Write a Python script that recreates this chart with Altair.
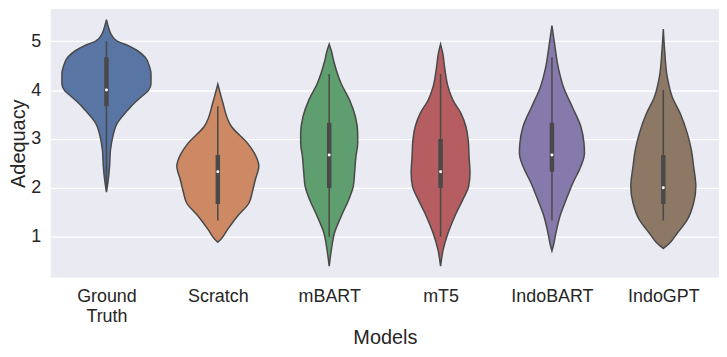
import altair as alt
import pandas as pd

models = ["Ground Truth", "Scratch", "mBART", "mT5", "IndoBART", "IndoGPT"]
colors = ["#5975a4", "#cc8963", "#5f9e6e", "#b55d60", "#857aab", "#8d7866"]
line_gray = "#494949"

# violin outlines: score levels and relative half-width (density) at each level
gt_y = [5.44, 5.30, 5.15, 5.00, 4.91, 4.81, 4.67, 4.47, 4.34, 4.13, 3.99, 3.86, 3.72, 3.59, 3.32, 3.04, 2.77, 2.44, 2.16, 1.91]
gt_d = [0.0, 0.04, 0.10, 0.24, 0.49, 0.69, 0.87, 0.97, 1.0, 1.0, 0.94, 0.78, 0.61, 0.48, 0.24, 0.14, 0.09, 0.07, 0.04, 0.0]

sc_y = [4.12, 3.95, 3.75, 3.25, 2.91, 2.71, 2.44, 2.16, 1.90, 1.69, 1.42, 1.15, 0.95, 0.89]
sc_d = [0.0, 0.05, 0.11, 0.31, 0.67, 0.82, 0.92, 0.84, 0.77, 0.70, 0.44, 0.22, 0.07, 0.0]

mb_y = [4.94, 4.80, 4.60, 4.13, 3.79, 3.45, 3.11, 2.91, 2.64, 2.30, 2.03, 1.76, 1.42, 1.08, 0.74, 0.40]
mb_d = [0.0, 0.05, 0.10, 0.27, 0.46, 0.59, 0.64, 0.64, 0.60, 0.57, 0.54, 0.44, 0.27, 0.12, 0.05, 0.0]

mt_y = [4.94, 4.75, 4.47, 4.06, 3.79, 3.52, 3.25, 2.98, 2.64, 2.30, 2.03, 1.76, 1.42, 1.08, 0.74, 0.40]
mt_d = [0.0, 0.05, 0.09, 0.17, 0.28, 0.46, 0.57, 0.62, 0.64, 0.66, 0.63, 0.50, 0.32, 0.17, 0.06, 0.0]

ib_y = [5.32, 4.94, 4.47, 4.06, 3.65, 3.25, 2.91, 2.71, 2.44, 2.10, 1.76, 1.42, 1.08, 0.81, 0.71]
ib_d = [0.0, 0.06, 0.14, 0.26, 0.46, 0.65, 0.72, 0.73, 0.65, 0.47, 0.32, 0.18, 0.09, 0.03, 0.0]

ig_y = [5.25, 4.81, 4.26, 3.86, 3.52, 3.11, 2.77, 2.44, 2.03, 1.69, 1.35, 1.08, 0.84, 0.76]
ig_d = [0.0, 0.03, 0.09, 0.20, 0.38, 0.54, 0.63, 0.68, 0.73, 0.68, 0.54, 0.32, 0.11, 0.0]

# box statistics
whisker_lo = [2.0, 1.33, 1.0, 1.0, 1.33, 1.33]
q1 = [3.67, 1.67, 2.0, 2.0, 2.33, 1.67]
median = [4.0, 2.33, 2.67, 2.33, 2.67, 2.0]
q3 = [4.67, 2.67, 3.33, 3.0, 3.33, 2.67]
whisker_hi = [5.0, 3.67, 4.33, 4.33, 4.67, 4.0]

y_list = [gt_y, sc_y, mb_y, mt_y, ib_y, ig_y]
d_list = [gt_d, sc_d, mb_d, mt_d, ib_d, ig_d]

rows = []
for i, (m, ys, ds) in enumerate(zip(models, y_list, d_list)):
    for y, d in zip(ys, ds):
        rows.append({"model": m, "pos": i, "y": y, "d": d})
vdf = pd.DataFrame(rows)

bdf = pd.DataFrame({
    "model": models, "pos": list(range(len(models))),
    "wlo": whisker_lo, "q1": q1, "med": median, "q3": q3, "whi": whisker_hi,
})

FONT = "Liberation Sans"
TXT = "#262626"
arr = "[" + ",".join("'" + m + "'" for m in models) + "]"

x_scale = alt.Scale(domain=[-0.5, len(models) - 0.5], nice=False, zero=False)
y_scale = alt.Scale(domain=[0.167, 5.66], nice=False, zero=False)

x_axis = alt.Axis(title="Models", values=list(range(len(models))),
                  labelExpr=f"split({arr}[datum.value], ' ')",
                  grid=False, ticks=False, domain=False, labelFontSize=18,
                  labelLineHeight=20, labelPadding=10, titleFontSize=20,
                  titlePadding=2, labelColor=TXT, titleColor=TXT,
                  labelFont=FONT, titleFont=FONT, titleFontWeight="normal")
y_axis = alt.Axis(title="Adequacy", values=[1, 2, 3, 4, 5], grid=True,
                  gridColor="white", gridWidth=1.3, ticks=False, domain=False,
                  labelFontSize=18, labelPadding=10, titleFontSize=20,
                  titlePadding=2, labelColor=TXT, titleColor=TXT,
                  labelFont=FONT, titleFont=FONT, titleFontWeight="normal")

violin = alt.Chart(vdf).transform_calculate(
    lo="datum.pos - 0.4 * datum.d", hi="datum.pos + 0.4 * datum.d"
).mark_area(orient="horizontal", interpolate="monotone", stroke=line_gray,
            strokeWidth=1.5, opacity=1, fillOpacity=1).encode(
    y=alt.Y("y:Q", scale=y_scale, axis=y_axis),
    x=alt.X("lo:Q", scale=x_scale, axis=x_axis),
    x2="hi:Q",
    fill=alt.Fill("model:N", scale=alt.Scale(domain=models, range=colors), legend=None),
    detail="model:N",
)

whisk = alt.Chart(bdf).mark_rule(color=line_gray, strokeWidth=1.5).encode(
    x=alt.X("pos:Q", scale=x_scale, axis=x_axis),
    y=alt.Y("wlo:Q", scale=y_scale, axis=y_axis),
    y2="whi:Q",
)
box = alt.Chart(bdf).mark_rule(color=line_gray, strokeWidth=4.5).encode(
    x=alt.X("pos:Q", scale=x_scale, axis=x_axis),
    y=alt.Y("q1:Q", scale=y_scale, axis=y_axis),
    y2="q3:Q",
)
med = alt.Chart(bdf).mark_point(filled=True, color="white", size=9, opacity=1,
                                shape="circle").encode(
    x=alt.X("pos:Q", scale=x_scale, axis=x_axis),
    y=alt.Y("med:Q", scale=y_scale, axis=y_axis),
)

chart = alt.layer(violin, whisk, box, med).properties(
    width=672, height=270,
    autosize=alt.AutoSizeParams(type="none"),
    padding={"left": 43, "top": 0, "right": 0, "bottom": 71},
    background="white",
).configure_view(fill="#EAEAF2", stroke=None)

chart.save("out.html", embed_options={"renderer": "svg", "actions": False})
